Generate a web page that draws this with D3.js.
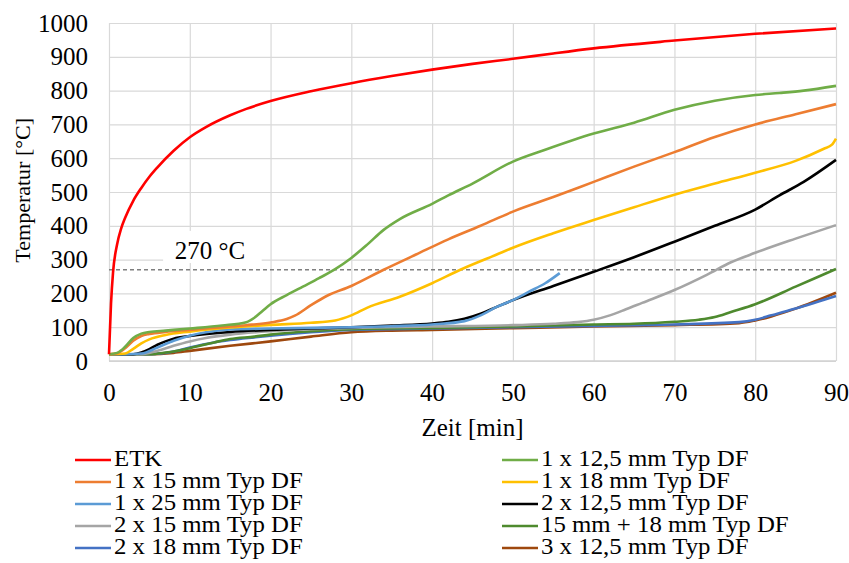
<!DOCTYPE html>
<html>
<head>
<meta charset="utf-8">
<script src="https://cdn.jsdelivr.net/npm/d3@7"></script>
<style>
  body { margin: 0; background: #fff; }
  svg, svg text { font-family: "Liberation Serif", "Times New Roman", serif; }
</style>
</head>
<body>
<svg id="chart"></svg>
<script>
// x = Zeit [min], y = Temperatur [°C]
const xTicks = [0, 10, 20, 30, 40, 50, 60, 70, 80, 90];
const yTicks = [0, 100, 200, 300, 400, 500, 600, 700, 800, 900, 1000];
const thresholdValue = 270;
const thresholdLabel = "270 °C";

const etk = [[0,20],[0.25,170],[0.5,262],[1,345],[1.5,392],[2,424],[3,474],[4,512],[5,545],[6,573],[8,622],[10,662],[12,692],[15,727],[17,746],[20,769],[25,798],[30,822],[35,843],[40,862],[45,879],[50,894],[55,910],[60,925],[70,948],[80,968],[90,984]];
const s125 = [[0,20],[1,24],[2,42],[3,68],[4,81],[5,86],[7,90],[10,96],[14,105],[17,115],[18,128],[19,148],[20,168],[22,195],[24,220],[26,245],[28,272],[30,305],[32,345],[34,388],[36,420],[40,465],[42,490],[45,525],[50,590],[54,625],[60,673],[65,705],[70,743],[75,770],[80,787],[83,793],[86,800],[90,814]];
const s15 = [[0,20],[1,23],[2,38],[3,60],[4,74],[5,80],[7,86],[10,92],[14,100],[17,106],[20,114],[22,124],[23,134],[25,165],[27,193],[30,222],[34,270],[38,315],[42,360],[46,400],[50,442],[55,485],[60,530],[65,575],[70,618],[75,663],[80,700],[85,730],[90,760]];
const s18 = [[0,20],[2,22],[3,36],[4,52],[5,64],[7,77],[10,87],[15,99],[20,107],[25,113],[28,120],[30,135],[32,158],[36,190],[40,230],[43.5,270],[48,315],[50,335],[55,378],[60,417],[65,455],[70,492],[75,525],[80,557],[85,592],[88.5,628],[89.5,640],[90,658]];
const s25 = [[0,20],[2,20],[4,22],[6,40],[8,60],[10,75],[12,85],[15,93],[20,96],[25,98],[30,100],[35,103],[40,108],[44,118],[46,135],[48,160],[50,180],[52,205],[54,230],[55.8,260]];
const s2x125 = [[0,20],[3,20],[4,25],[5,35],[6,48],[7,58],[8,66],[10,74],[15,86],[20,92],[25,96],[30,100],[35,105],[40,111],[42,116],[44,125],[46,140],[48,160],[50,180],[55,222],[60,264],[65,307],[70,353],[75,400],[80,448],[83,490],[86,530],[90,595]];
const s2x15 = [[0,20],[4,20],[6,30],[8,45],[10,58],[12,68],[15,78],[20,88],[25,94],[30,98],[40,102],[50,106],[55,110],[58,115],[60,122],[62,135],[64,153],[66,172],[70,210],[74,255],[77,292],[80,320],[85,362],[90,402]];
const s15p18 = [[0,20],[5,20],[7,25],[10,38],[13,55],[15,65],[18,72],[20,78],[25,88],[30,94],[40,98],[50,102],[60,108],[65,110],[70,116],[73,122],[75,130],[77,145],[80,168],[85,220],[90,272]];
const s2x18 = [[0,20],[5,20],[8,28],[10,40],[13,55],[15,62],[18,70],[20,75],[25,85],[30,92],[40,96],[50,100],[60,104],[70,108],[78,115],[80,122],[82,135],[85,155],[90,192]];
const s3x125 = [[0,20],[5,20],[8,24],[10,30],[15,45],[20,58],[25,72],[30,85],[35,90],[40,92],[50,97],[60,102],[70,106],[78,112],[80,120],[82,132],[85,155],[90,202]];

const seriesNames = ["ETK", "1 x 12,5 mm Typ DF", "1 x 15 mm Typ DF", "1 x 18 mm Typ DF",
  "1 x 25 mm Typ DF", "2 x 12,5 mm Typ DF", "2 x 15 mm Typ DF", "15 mm + 18 mm Typ DF",
  "2 x 18 mm Typ DF", "3 x 12,5 mm Typ DF"];
const seriesData = [etk, s125, s15, s18, s25, s2x125, s2x15, s15p18, s2x18, s3x125];
const seriesColors = ["#FF0000", "#70AD47", "#ED7D31", "#FFC000", "#5B9BD5", "#000000",
  "#A5A5A5", "#4E8A2E", "#4472C4", "#9E480E"];

const width = 849, height = 563;
const margin = {top: 23, right: 13, bottom: 202, left: 109};
const innerW = width - margin.left - margin.right;
const innerH = height - margin.top - margin.bottom;
const serif = '"Liberation Serif", "Times New Roman", serif';

const svg = d3.select("#chart").attr("width", width).attr("height", height);

const x = d3.scaleLinear().domain([0, 90]).range([margin.left, margin.left + innerW]);
const y = d3.scaleLinear().domain([0, 1000]).range([margin.top + innerH, margin.top]);

// grid
const xGrid = d3.axisBottom(x).tickValues(xTicks).tickSize(-innerH).tickFormat("");
const yGrid = d3.axisLeft(y).tickValues(yTicks).tickSize(-innerW).tickFormat("");
svg.append("g").attr("class", "grid")
  .attr("transform", "translate(0," + (margin.top + innerH) + ")")
  .call(xGrid);
svg.append("g").attr("class", "grid")
  .attr("transform", "translate(" + margin.left + ",0)")
  .call(yGrid);
svg.selectAll(".grid line").attr("stroke", "#D9D9D9").attr("stroke-width", 1.2);
svg.selectAll(".grid .domain").remove();

// tick labels
const xAxis = d3.axisBottom(x).tickValues(xTicks).tickSize(0).tickPadding(22).tickFormat(d3.format("d"));
const yAxis = d3.axisLeft(y).tickValues(yTicks).tickSize(0).tickPadding(21).tickFormat(d3.format("d"));
const gx = svg.append("g")
  .attr("transform", "translate(0," + (margin.top + innerH) + ")")
  .call(xAxis);
const gy = svg.append("g")
  .attr("transform", "translate(" + margin.left + ",0)")
  .call(yAxis);
[gx, gy].forEach(g => {
  g.attr("font-family", null).attr("font-size", null);
  g.select(".domain").remove();
  g.selectAll("text").style("font-size", "25px").style("font-family", serif).attr("fill", "#000");
});
// bottom axis line
svg.append("line")
  .attr("x1", x(0)).attr("x2", x(90)).attr("y1", y(0)).attr("y2", y(0))
  .attr("stroke", "#D0D0D0").attr("stroke-width", 1.5);

// threshold line + label
svg.append("line")
  .attr("x1", x(0)).attr("x2", x(90))
  .attr("y1", y(thresholdValue)).attr("y2", y(thresholdValue))
  .attr("stroke", "#7F7F7F").attr("stroke-width", 1.5)
  .attr("stroke-dasharray", "4,3");
svg.append("rect")
  .attr("x", x(6.7)).attr("y", y(385))
  .attr("width", x(18.9) - x(6.7)).attr("height", y(290) - y(385))
  .attr("fill", "#fff");
svg.append("text")
  .attr("x", x(12.5)).attr("y", y(302))
  .attr("text-anchor", "middle").style("font-size", "25px").text(thresholdLabel);

// series
const line = d3.line().x(d => x(d[0])).y(d => y(d[1])).curve(d3.curveMonotoneX);
const order = [9, 8, 7, 6, 5, 4, 3, 2, 1, 0];
svg.append("g").selectAll("path")
  .data(order)
  .join("path")
  .attr("d", i => line(seriesData[i]))
  .attr("fill", "none")
  .attr("stroke", i => seriesColors[i])
  .attr("stroke-width", 2.6)
  .attr("stroke-linejoin", "round");

// axis titles
svg.append("text")
  .attr("x", x(45)).attr("y", 436)
  .attr("text-anchor", "middle").style("font-size", "25px").text("Zeit [min]");
svg.append("text")
  .attr("transform", "translate(30," + y(505) + ") rotate(-90)")
  .attr("text-anchor", "middle").style("font-size", "22px").text("Temperatur [°C]");

// legend (two columns)
const legend = svg.append("g");
const items = legend.selectAll("g")
  .data(seriesNames.map((n, i) => ({name: n, color: seriesColors[i], i: i})))
  .join("g")
  .attr("transform", d => {
    const col = d.i % 2, row = Math.floor(d.i / 2);
    return "translate(" + (col === 0 ? 75 : 502) + "," + (460 + row * 22) + ")";
  });
items.append("line")
  .attr("x1", 0).attr("x2", 36).attr("y1", 0).attr("y2", 0)
  .attr("stroke", d => d.color).attr("stroke-width", 2.6);
items.append("text")
  .attr("transform", "translate(39,6) scale(1.08,1)")
  .style("font-size", "23px")
  .text(d => d.name);
</script>
</body>
</html>
